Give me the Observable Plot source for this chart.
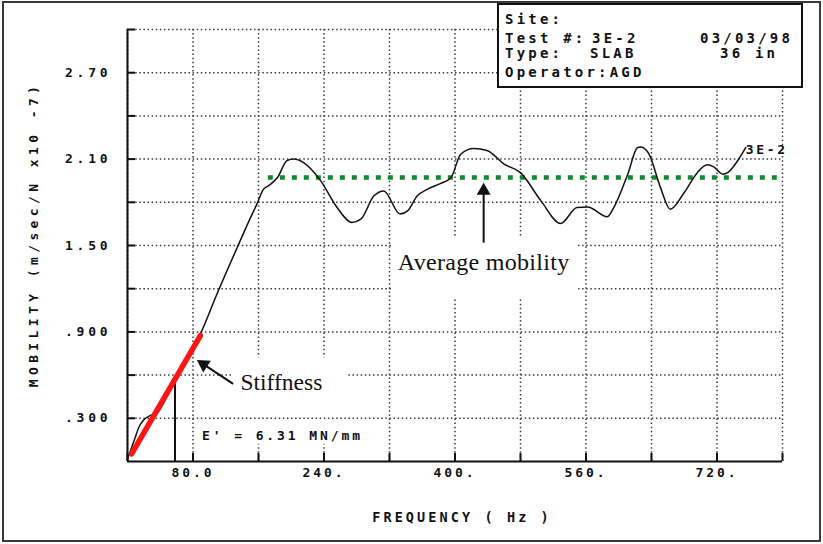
<!DOCTYPE html>
<html><head><meta charset="utf-8">
<script src="https://cdn.jsdelivr.net/npm/d3@7"></script>
<script src="https://cdn.jsdelivr.net/npm/@observablehq/plot@0.6"></script>
<style>
html,body{margin:0;padding:0;background:#fff;}
#wrap{position:relative;width:823px;height:544px;overflow:hidden;background:#fff;}
#frame{position:absolute;left:2px;top:1px;width:815px;height:537px;border:2px solid #3a3a3a;pointer-events:none;}
#info{position:absolute;left:497px;top:3px;width:302px;height:81px;border:2px solid #111;background:#fff;font-family:"DejaVu Sans Mono",monospace;font-weight:bold;font-size:14px;letter-spacing:3.2px;color:#111;}
#info span{position:absolute;white-space:pre;line-height:14px;}
#chart{position:absolute;left:0;top:0;}
g[aria-label="y-axis tick label"] text{letter-spacing:3.8px;}
g[aria-label="x-axis tick label"] text{letter-spacing:2.9px;}
</style></head><body>
<div id="wrap"><div id="chart"></div><div id="info"></div><div id="frame"></div></div>
<script>
// ---- data ----
const freq = [0, 4, 9, 14, 20, 28, 36, 48, 60, 75, 89, 109, 134, 150, 158, 166, 172, 183, 195, 203, 215, 236, 256, 274, 285, 301, 313, 333, 342, 354, 366, 382, 395, 407, 423, 439, 460, 480, 505, 529, 549, 562, 586, 594, 611, 623, 627, 637, 651, 663, 680, 696, 708, 716, 727, 733, 745, 755];
const mobility = [0.02, 0.08, 0.16, 0.24, 0.29, 0.32, 0.335, 0.45, 0.59, 0.74, 0.886, 1.16, 1.486, 1.69, 1.787, 1.89, 1.914, 1.97, 2.09, 2.10, 2.076, 1.949, 1.764, 1.66, 1.683, 1.845, 1.879, 1.718, 1.74, 1.845, 1.89, 1.93, 1.97, 2.134, 2.173, 2.16, 2.065, 2.006, 1.81, 1.653, 1.764, 1.768, 1.70, 1.764, 1.995, 2.18, 2.184, 2.134, 1.902, 1.752, 1.868, 2.006, 2.06, 2.046, 1.995, 2.006, 2.087, 2.18];
const seriesName = "3E-2";
const stiffFreq = [5, 89];
const stiffMob = [0.053, 0.874];
const stiffMarkerFreq = 58;
const stiffMarkerTop = 0.54;
const stiffText = "E' = 6.31 MN/mm";
const avgMobility = 1.972;
const avgFreqRange = [172, 800];
const xGrid = [0, 80, 160, 240, 320, 400, 480, 560, 640, 720, 800];
const yGrid = [0.3, 0.6, 0.9, 1.2, 1.5, 1.8, 2.1, 2.4, 2.7, 3.0];
const xTicks = [80, 240, 400, 560, 720];
const xTickLabels = ["80.0", "240.", "400.", "560.", "720."];
const yTicks = [0.3, 0.9, 1.5, 2.1, 2.7];
const yTickLabels = [".300", ".900", "1.50", "2.10", "2.70"];
const xTitle = "FREQUENCY ( Hz )";
const yTitle = "MOBILITY (m/sec/N x10 -7)";
const avgLabel = "Average mobility";
const stiffLabel = "Stiffness";
const infoTexts = ["Site:", "Test #:", "3E-2", "03/03/98", "Type:", "SLAB", "36 in", "Operator:AGD"];

// ---- annotation anchors and pasted-label backgrounds (data units) ----
const avgArrow = {f: 435, m0: 1.52, m1: 1.88, labelM: 1.38};
const stiffArrow = {f0: 129, m0: 0.539, f1: 93, m1: 0.675, labelF: 138, labelM: 0.55};
const vertGap = [{f1: 150, f2: 300, m1: 0.12, m2: 0.72}];
const labelPatches = [{f1: 323, f2: 551, m1: 1.13, m2: 1.56}, {f1: 129, f2: 268, m1: 0.5, m2: 0.68}];

const curve = freq.map((f, i) => ({f, m: mobility[i]}));
const stiff = stiffFreq.map((f, i) => ({f, m: stiffMob[i]}));
const gridStyle = {stroke: "#3a3a3a", strokeOpacity: 1, strokeWidth: 1.5, strokeDasharray: "1.5,2.6"};

const chart = Plot.plot({
  width: 823, height: 544,
  marginLeft: 127, marginRight: 41, marginTop: 29, marginBottom: 83,
  x: {domain: [0, 800]},
  y: {domain: [0, 3]},
  style: {fontFamily: '"DejaVu Sans Mono", monospace', fontWeight: "bold", fontSize: "13px", color: "#111", background: "transparent"},
  marks: [
    Plot.gridX(xGrid, gridStyle),
    Plot.rect(vertGap, {x1: "f1", x2: "f2", y1: "m1", y2: "m2", fill: "white"}),
    Plot.gridY(yGrid, gridStyle),
    Plot.rect(labelPatches, {x1: "f1", x2: "f2", y1: "m1", y2: "m2", fill: "white"}),
    Plot.axisX({ticks: xGrid, tickSize: 8, dy: -8, strokeWidth: 2, tickFormat: () => "", label: null}),
    Plot.axisY({ticks: yGrid, tickSize: 8, dx: 8, strokeWidth: 2, tickFormat: () => "", label: null}),
    Plot.axisX({ticks: xTicks, tickSize: 0, tickPadding: 6, tickFormat: d => xTickLabels[xTicks.indexOf(d)], label: null, fontSize: 13}),
    Plot.axisY({ticks: yTicks, tickSize: 0, tickPadding: 16, tickFormat: d => yTickLabels[yTicks.indexOf(d)], label: null, fontSize: 13}),
    Plot.ruleX([0], {stroke: "#111", strokeWidth: 2}),
    Plot.ruleY([0], {stroke: "#111", strokeWidth: 2}),
    Plot.ruleY([avgMobility], {x1: avgFreqRange[0], x2: avgFreqRange[1], stroke: "#12892e", strokeWidth: 4.5, strokeDasharray: "5,7"}),
    Plot.line(curve, {x: "f", y: "m", stroke: "#111", strokeWidth: 1.5, curve: "monotone-x"}),
    Plot.ruleX([stiffMarkerFreq], {y1: 0, y2: stiffMarkerTop, stroke: "#111", strokeWidth: 2}),
    Plot.line(stiff, {x: "f", y: "m", stroke: "#ff1414", strokeWidth: 5.5}),
    Plot.text([seriesName], {x: freq[freq.length - 1], y: mobility[mobility.length - 1], text: d => d, textAnchor: "start", dx: 0, dy: 2, fontSize: 13}),
    Plot.text([stiffText], {x: 91, y: 0.18, text: d => d, textAnchor: "start", fontSize: 13}),
    // average mobility arrow
    Plot.link([avgArrow], {x1: "f", x2: "f", y1: "m0", y2: "m1", stroke: "#111", strokeWidth: 2}),
    Plot.dot([avgArrow], {x: "f", y: "m1", symbol: "triangle", r: 5.2, fill: "#111", stroke: "none"}),
    Plot.text([avgLabel], {x: avgArrow.f, y: avgArrow.labelM, text: d => d, fontFamily: '"Liberation Serif", serif', fontWeight: "normal", fontSize: 24, fill: "#111"}),
    // stiffness arrow
    Plot.link([stiffArrow], {x1: "f0", y1: "m0", x2: "f1", y2: "m1", stroke: "#111", strokeWidth: 2}),
    Plot.dot([stiffArrow], {x: "f1", y: "m1", symbol: "triangle", r: 5.2, rotate: -57, fill: "#111", stroke: "none"}),
    Plot.text([stiffLabel], {x: stiffArrow.labelF, y: stiffArrow.labelM, text: d => d, textAnchor: "start", fontFamily: '"Liberation Serif", serif', fontWeight: "normal", fontSize: 23.5, fill: "#111"}),
    // axis titles
    Plot.text([xTitle], {frameAnchor: "bottom", text: d => d, lineAnchor: "middle", textAnchor: "middle", dy: 56, dx: 7, fontSize: 13.5}),
    Plot.text([yTitle], {frameAnchor: "left", text: d => d, textAnchor: "middle", lineAnchor: "middle", rotate: -90, dx: -94, dy: -11, fontSize: 13})
  ]
});
document.getElementById("chart").appendChild(chart);

// letter spacing to mimic the wide pixel font of the original plotter output
const spacing = new Map([[stiffText, "2.9px"], [seriesName, "2.7px"], [xTitle, "3.1px"], [yTitle, "4.4px"], [avgLabel, "0.3px"]]);
d3.select(chart).selectAll("text").each(function () {
  const s = spacing.get(this.textContent);
  if (s) this.style.letterSpacing = s;
});

// info box (header block above the plot)
const infoPos = [[6, 19], [6, 38], [93, 38], [201, 38], [6, 53], [91, 53], [221, 53], [6, 72]];
const info = document.getElementById("info");
infoTexts.forEach((t, i) => {
  const s = document.createElement("span");
  s.textContent = t;
  s.style.left = infoPos[i][0] + "px";
  s.style.top = (infoPos[i][1] - 7 - 5) + "px";
  info.appendChild(s);
});
</script>
</body></html>
